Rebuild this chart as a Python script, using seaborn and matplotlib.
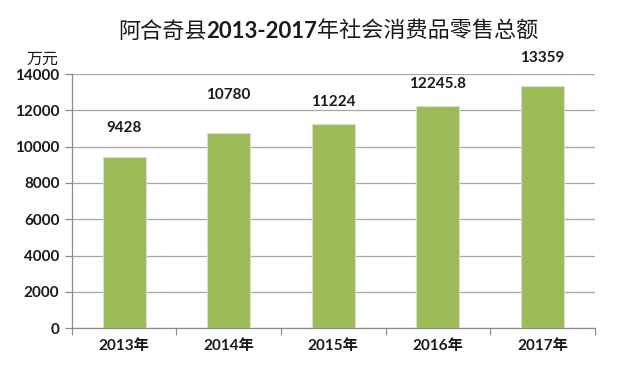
import numpy as np
import pandas as pd
import matplotlib
matplotlib.use("Agg")
import matplotlib.pyplot as plt
import seaborn as sns

# data
years = ["2013年", "2014年", "2015年", "2016年", "2017年"]
sales = [9428, 10780, 11224, 12245.8, 13359]
value_labels = ["9428", "10780", "11224", "12245.8", "13359"]
title_parts = ["阿合奇县", "2013-2017", "年社会消费品零售总额"]

sns.set_theme(style="white")
plt.rcParams["font.family"] = ["Lato", "Noto Sans CJK SC", "DejaVu Sans"]

df = pd.DataFrame({"year": years, "sales": sales})

fig = plt.figure(figsize=(6.2, 3.78), dpi=100)
ax = fig.add_axes([0.116, 0.132, 0.843, 0.672])

sns.barplot(data=df, x="year", y="sales", color="#9BBB59", width=0.41,
            saturation=1, edgecolor="#D9DECF", linewidth=0.8, ax=ax, zorder=3)

ax.set_ylim(0, 14000)
ax.set_yticks(np.arange(0, 14001, 2000))
ax.set_xlim(-0.5, len(years) - 0.5)
ax.yaxis.grid(True, color="#A6A6A6", linewidth=0.9, zorder=0)
ax.set_xlabel("")
ax.set_ylabel("")

for s in ["top", "right"]:
    ax.spines[s].set_visible(False)
for s in ["left", "bottom"]:
    ax.spines[s].set_color("#8C8C8C")
    ax.spines[s].set_linewidth(0.9)

# x ticks between categories
ax.set_xticks(np.arange(-0.5, len(years), 1.0), minor=False)
ax.set_xticklabels([])
ax.set_xticks(np.arange(len(years)), minor=True)
ax.set_xticklabels(years, minor=True, fontsize=11, fontweight="bold",
                   color="#1a1a1a")
ax.tick_params(axis="x", which="major", direction="out", length=5,
               color="#8C8C8C", width=0.9, bottom=True)
ax.tick_params(axis="x", which="minor", length=0, pad=8)
ax.tick_params(axis="y", direction="out", length=5, color="#8C8C8C",
               width=0.9, left=True, labelsize=11, pad=4)
for lab in ax.get_yticklabels():
    lab.set_fontweight("bold")
    lab.set_color("#1a1a1a")

# label positions were set by hand in the original
offsets = [21, 27, 16, 16, 20]
for i, (v, t) in enumerate(zip(sales, value_labels)):
    ax.annotate(t, (i, v), xytext=(0, offsets[i]), textcoords="offset points",
                ha="center", va="center", fontsize=11, fontweight="bold",
                color="#1a1a1a")

# title: chinese regular, digits bold, laid out piece by piece
renderer = fig.canvas.get_renderer()
x = 118 / 620
weights = ["normal", "bold", "normal"]
for part, w in zip(title_parts, weights):
    t = fig.text(x, 1 - 32 / 378, part, ha="left", va="center",
                 fontsize=15.9, fontweight=w, color="#1a1a1a",
                 family=["Noto Sans CJK SC", "DejaVu Sans"] if w == "normal"
                 else ["Lato", "DejaVu Sans"])
    bb = t.get_window_extent(renderer)
    x = x + bb.width / fig.bbox.width

fig.text(42 / 620, 1 - 59 / 378, "万元", ha="center", va="center",
         fontsize=11.5, fontweight="medium", color="#1a1a1a",
         family=["Noto Sans CJK SC", "DejaVu Sans"])

fig.savefig("out.png", dpi=100)
